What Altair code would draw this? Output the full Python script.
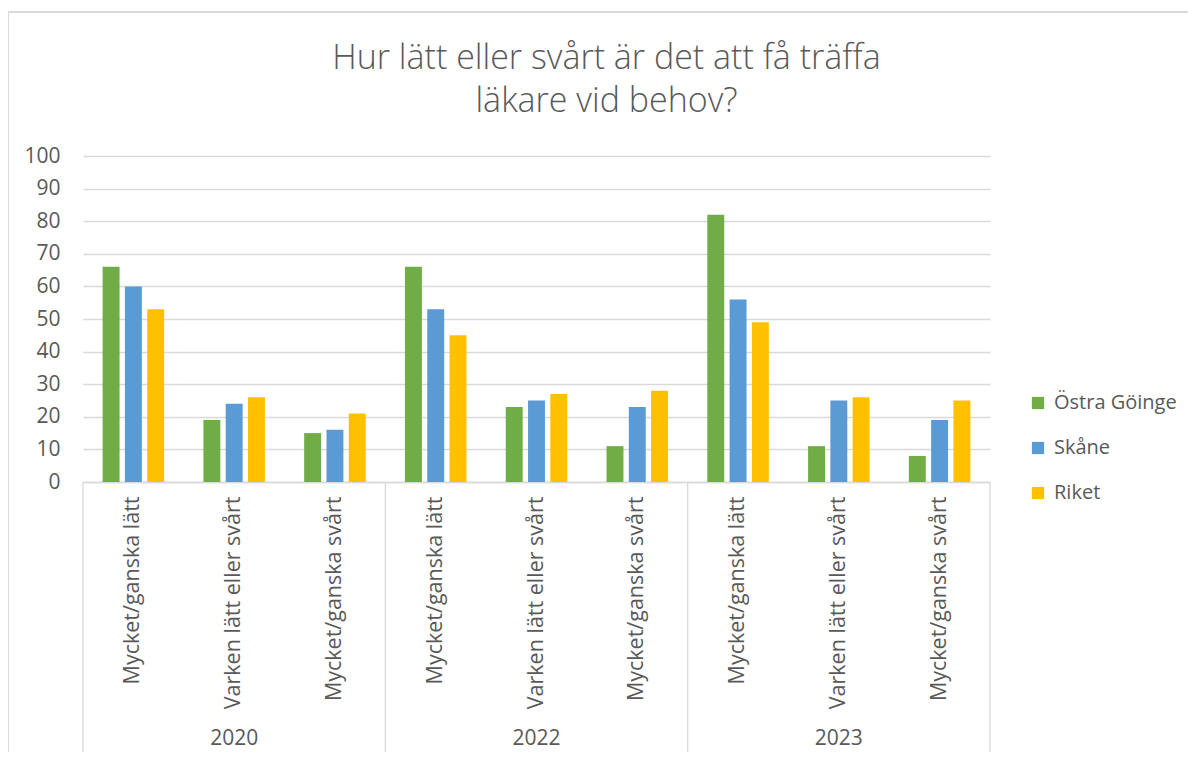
import altair as alt
import pandas as pd

years = ["2020", "2022", "2023"]
categories = ["Mycket/ganska lätt", "Varken lätt eller svårt", "Mycket/ganska svårt"]
series = ["Östra Göinge", "Skåne", "Riket"]
colors = ["#70AD47", "#5B9BD5", "#FFC000"]

ostra_goinge = [66, 19, 15, 66, 23, 11, 82, 11, 8]
skane = [60, 24, 16, 53, 25, 23, 56, 25, 19]
riket = [53, 26, 21, 45, 27, 28, 49, 26, 25]

title_lines = ["Hur lätt eller svårt är det att få träffa", "läkare vid behov?"]

FONT = "Open Sans"
GREY = "#595959"
LINE = "#d9d9d9"

keys = [f"{y}|{c}" for y in years for c in categories]
values_by_series = [ostra_goinge, skane, riket]

rows = []
for s, vals in zip(series, values_by_series):
    for k, v in zip(keys, vals):
        rows.append({"key": k, "series": s, "value": v})
df = pd.DataFrame(rows)

year_df = pd.DataFrame({"key": [f"{y}|{categories[1]}" for y in years], "year": years})
sep_start_df = pd.DataFrame({"key": [f"{y}|{categories[0]}" for y in years]})
sep_end_df = pd.DataFrame({"key": [keys[-1]]})
one_df = pd.DataFrame({"d": [0]})

W, H = 907, 326

x_axis = alt.Axis(
    title=None, labelAngle=-90, labelExpr="split(datum.label, '|')[1]",
    ticks=False, labelPadding=14, labelFont=FONT, labelFontSize=21.5,
    labelColor=GREY, domainColor=LINE, domainWidth=1.3, grid=False,
    labelLimit=300,
)
x_scale = alt.Scale(paddingInner=0, paddingOuter=0)

def X(bp=None):
    if bp is None:
        return alt.X("key:N", sort=keys, scale=x_scale, axis=x_axis)
    return alt.X("key:N", sort=keys, scale=x_scale, axis=x_axis, bandPosition=bp)

bars = alt.Chart(df).mark_bar().encode(
    x=X(),
    xOffset=alt.XOffset("series:N", sort=series,
                        scale=alt.Scale(paddingInner=0.24, paddingOuter=0.88)),
    y=alt.Y("value:Q", scale=alt.Scale(domain=[0, 100]),
            axis=alt.Axis(title=None, values=list(range(0, 101, 10)), domain=False,
                          ticks=False, labelPadding=23, labelFont=FONT,
                          labelFontSize=21, labelColor=GREY, gridColor=LINE,
                          gridWidth=1.3)),
    color=alt.Color("series:N", sort=series,
                    scale=alt.Scale(domain=series, range=colors),
                    legend=alt.Legend(title=None, orient="none", legendX=945,
                                      legendY=237, symbolType="square",
                                      symbolSize=150, symbolStrokeWidth=0,
                                      labelFont=FONT, labelFontSize=20,
                                      labelColor=GREY, rowPadding=25,
                                      labelOffset=6)),
)

year_text = alt.Chart(year_df).mark_text(
    font=FONT, fontSize=21, color=GREY, baseline="middle", align="center"
).encode(x=X(0.5), y=alt.value(H + 257), text="year:N")

sep_start = alt.Chart(sep_start_df).mark_rule(color=LINE, strokeWidth=1.3).encode(
    x=X(0), y=alt.value(H), y2=alt.value(H + 272))
sep_end = alt.Chart(sep_end_df).mark_rule(color=LINE, strokeWidth=1.3).encode(
    x=X(1), y=alt.value(H), y2=alt.value(H + 272))

border = alt.Chart(one_df).mark_rect(fill="transparent", stroke=LINE, strokeWidth=2).encode(
    x=alt.value(-75), x2=alt.value(1300), y=alt.value(-144), y2=alt.value(900))

title = alt.Chart(one_df).mark_text(
    text=title_lines, font=FONT, fontSize=34, fontWeight=300, color=GREY,
    align="center", baseline="alphabetic", lineHeight=43,
).encode(x=alt.value(523.5), y=alt.value(-87))

chart = alt.layer(border, sep_start, sep_end, bars, year_text, title).properties(
    width=W, height=H,
    autosize=alt.AutoSizeParams(type="none"),
    padding={"left": 75, "top": 148, "right": 198, "bottom": 270},
).configure_view(stroke=None)

chart.save("out.html", embed_options={"renderer": "svg", "actions": False})
